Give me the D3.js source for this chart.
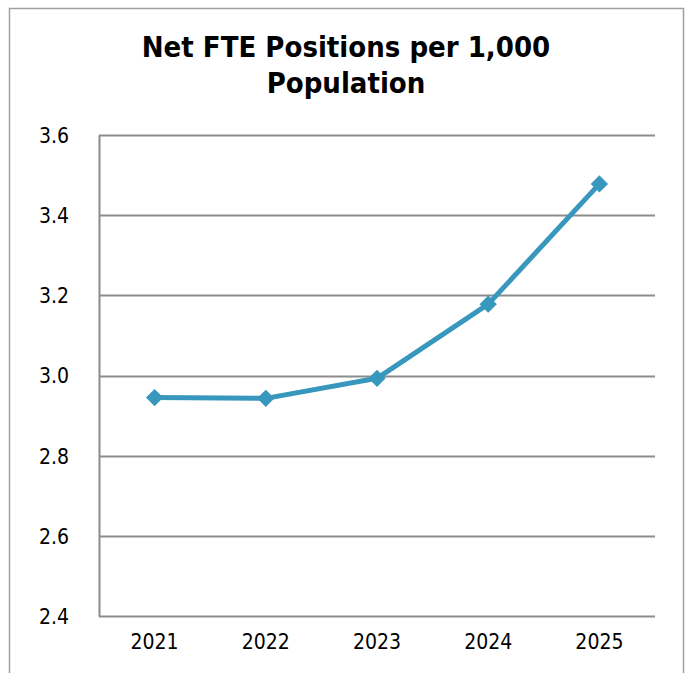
<!DOCTYPE html>
<html>
<head>
<meta charset="utf-8">
<script src="https://cdn.jsdelivr.net/npm/d3@7"></script>
<style>
  body { margin: 0; background: #fff; }
  text { font-family: "DejaVu Sans Condensed", "DejaVu Sans", sans-serif; fill: #000; }
</style>
</head>
<body>
<div id="chart"></div>
<script>
var years = ["2021", "2022", "2023", "2024", "2025"];
var values = [2.945, 2.943, 2.993, 3.178, 3.478];
var yTicks = [2.4, 2.6, 2.8, 3.0, 3.2, 3.4, 3.6];
var titleLines = ["Net FTE Positions per 1,000", "Population"];

var W = 692, H = 673;
var margin = {top: 135, right: 37, bottom: 57, left: 99};
var width = W - margin.left - margin.right,
    height = H - margin.top - margin.bottom;

var svg = d3.select("#chart").append("svg")
  .attr("width", W)
  .attr("height", H);

// outer frame (open at the bottom, like the cropped original)
svg.append("path")
  .attr("d", "M9.5," + (H + 2) + "V8.5H683.5V" + (H + 2))
  .attr("fill", "none")
  .attr("stroke", "#a0a0a0")
  .attr("stroke-width", 1.5);

// title
svg.append("text")
  .attr("text-anchor", "middle")
  .attr("font-weight", "bold")
  .attr("font-size", 29)
  .selectAll("tspan")
  .data(titleLines)
  .enter().append("tspan")
    .attr("x", 346)
    .attr("y", function(d, i) { return 57 + i * 36; })
    .text(function(d) { return d; });

var main = svg.append("g")
  .attr("transform", "translate(" + margin.left + "," + margin.top + ")");

var x = d3.scaleBand()
  .domain(years)
  .range([0, width]);

var y = d3.scaleLinear()
  .domain([2.4, 3.6])
  .range([height, 0]);

// gridlines
main.append("g")
  .selectAll("line")
  .data(yTicks)
  .enter().append("line")
    .attr("x1", 0)
    .attr("x2", width)
    .attr("y1", function(d) { return Math.round(y(d)) + 0.5; })
    .attr("y2", function(d) { return Math.round(y(d)) + 0.5; })
    .attr("stroke", "#8c8c8c")
    .attr("stroke-width", 2);

// y axis
var yAxis = d3.axisLeft(y)
  .tickValues(yTicks)
  .tickFormat(d3.format(".1f"))
  .tickSize(0)
  .tickPadding(30);

main.append("g")
  .call(yAxis)
  .call(function(g) { g.select(".domain").attr("stroke", "#8c8c8c").attr("stroke-width", 2); })
  .selectAll("text")
    .attr("font-size", 21)
    .attr("font-family", "'DejaVu Sans Condensed', 'DejaVu Sans', sans-serif")
    .attr("dy", "0.35em");

// x axis labels
var xAxis = d3.axisBottom(x)
  .tickSize(0)
  .tickPadding(18);

main.append("g")
  .attr("transform", "translate(0," + height + ")")
  .call(xAxis)
  .call(function(g) { g.select(".domain").remove(); })
  .selectAll("text")
    .attr("font-size", 21)
    .attr("font-family", "'DejaVu Sans Condensed', 'DejaVu Sans', sans-serif");

var cx = function(d, i) { return x(years[i]) + x.bandwidth() / 2; };

var line = d3.line()
  .x(function(d, i) { return cx(d, i); })
  .y(function(d) { return y(d); });

main.append("path")
  .datum(values)
  .attr("fill", "none")
  .attr("stroke", "#3897bd")
  .attr("stroke-width", 5)
  .attr("stroke-linejoin", "round")
  .attr("d", line);

var diamond = d3.symbol().type(d3.symbolSquare).size(150);

main.append("g")
  .selectAll("path")
  .data(values)
  .enter().append("path")
    .attr("d", diamond)
    .attr("fill", "#3897bd")
    .attr("transform", function(d, i) { return "translate(" + cx(d, i) + "," + y(d) + ") rotate(45)"; });
</script>
</body>
</html>
